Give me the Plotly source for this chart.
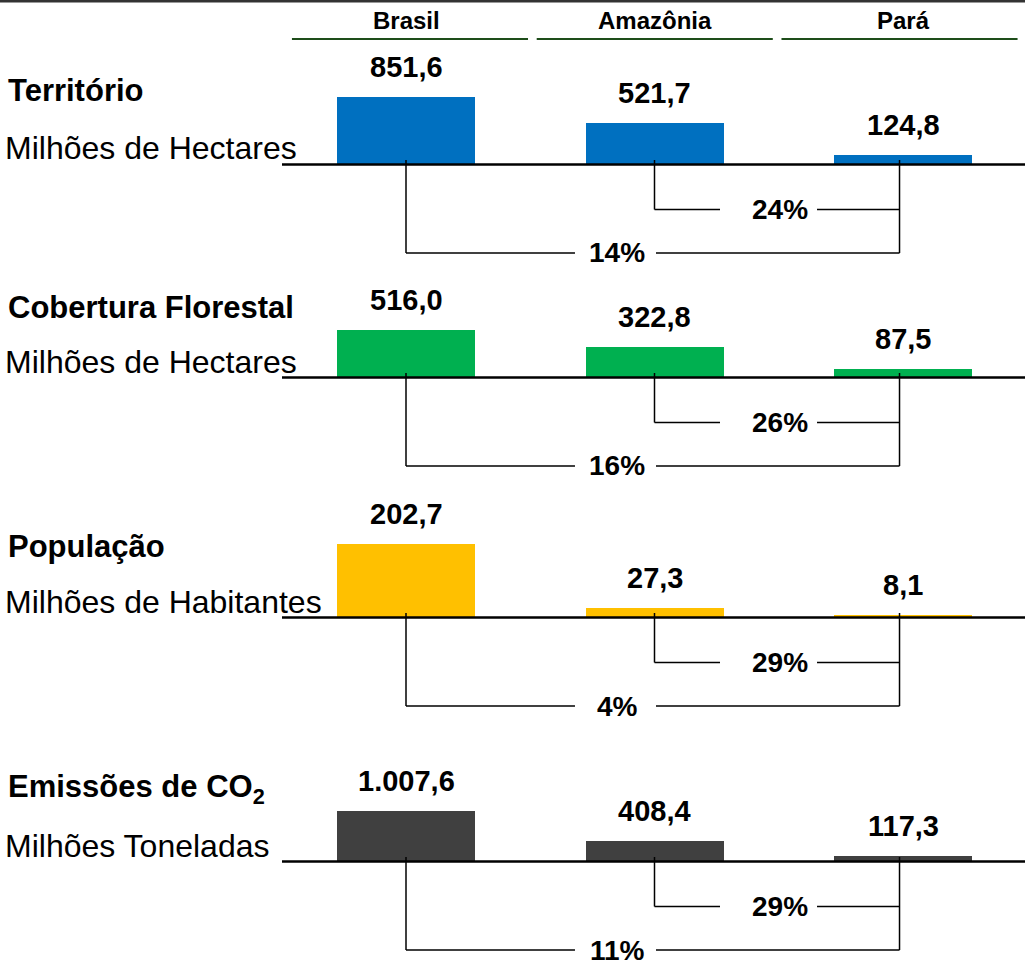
import plotly.graph_objects as go

# ---------------- data ----------------
regions = ["Brasil", "Amazônia", "Pará"]
titles = ["Território", "Cobertura Florestal", "População", "Emissões de CO<sub>2</sub>"]
subtitles = ["Milhões de Hectares", "Milhões de Hectares", "Milhões de Habitantes", "Milhões Toneladas"]
territorio = [851.6, 521.7, 124.8]
cobertura = [516.0, 322.8, 87.5]
populacao = [202.7, 27.3, 8.1]
emissoes = [1007.6, 408.4, 117.3]
pct_para_amazonia = ["24%", "26%", "29%", "29%"]
pct_para_brasil = ["14%", "16%", "4%", "11%"]
colors = ["#0070C0", "#00B050", "#FFC000", "#404040"]

series = [territorio, cobertura, populacao, emissoes]

# ---------------- layout helpers (pixels) ----------------
W, H = 1025, 967
baselines = [164.5, 377.5, 617.5, 861.5]   # pixel y of zero line
scales = [0.0795, 0.093, 0.362, 0.0499]    # pixels per unit
title_y = [90, 307, 546, 789]
sub_y = [148, 362, 602, 846]
x_center0, x_step = 406, 248.5
FONT = "Liberation Sans, Arial, sans-serif"


def py(p):
    return 1 - p / H


xr = [-x_center0 / x_step, (W - x_center0) / x_step]
xs = list(range(len(regions)))


def fmt(v):
    s = f"{v:,.1f}"
    return s.replace(",", "X").replace(".", ",").replace("X", ".")


fig = go.Figure()
shapes = []
annotations = []
layout_axes = {}

for i, vals in enumerate(series):
    n = "" if i == 0 else str(i + 1)
    b, s = baselines[i], scales[i]
    top, bot = b - 100, b + 95
    layout_axes[f"xaxis{n}"] = dict(range=xr, domain=[0, 1], anchor=f"y{n}", visible=False, fixedrange=True)
    layout_axes[f"yaxis{n}"] = dict(range=[-(bot - b) / s, (b - top) / s], domain=[py(bot), py(top)],
                                    anchor=f"x{n}", visible=False, fixedrange=True)
    fig.add_trace(go.Bar(x=xs, y=vals, width=138 / x_step, marker=dict(color=colors[i], line=dict(width=0)),
                         xaxis=f"x{n}", yaxis=f"y{n}", showlegend=False, hoverinfo="skip"))
    # value labels
    for j, v in enumerate(vals):
        annotations.append(dict(x=xs[j], y=v, xref=f"x{n}", yref=f"y{n}", text=f"<b>{fmt(v)}</b>",
                                showarrow=False, yanchor="middle", xanchor="center", yshift=30,
                                font=dict(size=29, color="black", family=FONT)))
    # baseline
    shapes.append(dict(type="line", xref="paper", yref=f"y{n}", x0=282 / W, x1=1, y0=0, y1=0,
                       line=dict(color="black", width=2.5)))
    # brackets
    d_in, d_out, d_tick = -45 / s, -88.5 / s, 4.5 / s
    xb, xa, xp = 0, 1, 1.986
    line = dict(color="black", width=1.5)
    segs = [
        (xb, d_tick, xb, d_out), (xa, d_tick, xa, d_in), (xp, d_tick, xp, d_out),
        (xa, d_in, 1.2636, d_in), (1.654, d_in, xp, d_in),
        (xb, d_out, 0.680, d_out), (1.006, d_out, xp, d_out),
    ]
    for (x0, y0, x1, y1) in segs:
        shapes.append(dict(type="line", xref=f"x{n}", yref=f"y{n}", x0=x0, y0=y0, x1=x1, y1=y1, line=line))
    annotations.append(dict(x=1.505, y=d_in, xref=f"x{n}", yref=f"y{n}", text=f"<b>{pct_para_amazonia[i]}</b>",
                            showarrow=False, yanchor="middle", xanchor="center",
                            font=dict(size=28, color="black", family=FONT)))
    annotations.append(dict(x=0.85, y=d_out, xref=f"x{n}", yref=f"y{n}", text=f"<b>{pct_para_brasil[i]}</b>",
                            showarrow=False, yanchor="middle", xanchor="center",
                            font=dict(size=28, color="black", family=FONT)))
    # left titles
    annotations.append(dict(x=6 / W, y=py(title_y[i]), xref="paper", yref="paper", xanchor="left",
                            yanchor="middle", text=f"<b>{titles[i]}</b>", showarrow=False,
                            font=dict(size=31, color="black", family=FONT)))
    annotations.append(dict(x=3 / W, y=py(sub_y[i]), xref="paper", yref="paper", xanchor="left",
                            yanchor="middle", text=subtitles[i], showarrow=False,
                            font=dict(size=32, color="black", family=FONT)))

# column headers with green underlines
hdr_off, hdr_step, hdr_half = 0.016, 0.985, 0.475
for j, r in enumerate(regions):
    hx = hdr_off + hdr_step * xs[j]
    annotations.append(dict(x=xs[j], y=py(20), xref="x", yref="paper", text=f"<b>{r}</b>", showarrow=False,
                            xanchor="center", yanchor="middle",
                            font=dict(size=24, color="black", family=FONT)))
    shapes.append(dict(type="line", xref="x", yref="paper", x0=hx - hdr_half, x1=hx + hdr_half,
                       y0=py(39), y1=py(39), line=dict(color="#1E4D1A", width=2)))

# top rule
shapes.append(dict(type="line", xref="paper", yref="paper", x0=0, x1=1, y0=py(1), y1=py(1),
                   line=dict(color="#333333", width=3)))

fig.update_layout(width=W, height=H, autosize=False, margin=dict(l=0, r=0, t=0, b=0),
                  paper_bgcolor="white", plot_bgcolor="rgba(0,0,0,0)", bargap=0,
                  shapes=shapes, annotations=annotations, **layout_axes)

fig.write_html("out.html", config={"displayModeBar": False, "staticPlot": True},
               post_script="document.body.style.margin='0px';")
